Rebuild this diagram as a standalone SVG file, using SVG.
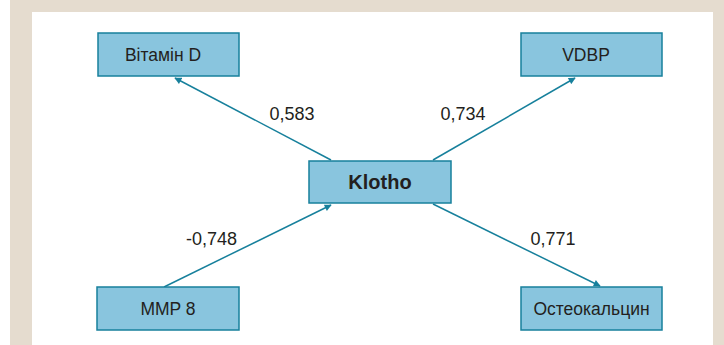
<svg xmlns="http://www.w3.org/2000/svg" width="724" height="345" viewBox="0 0 724 345">
<style>
.box{fill:#89C5DE;stroke:#17809C;stroke-width:1.5}
.t{font-family:"Liberation Sans",Arial,sans-serif;font-size:17.5px;fill:#231F20;text-anchor:middle}
.l{font-size:18px}
.b{font-weight:bold;font-size:20px}
.c{stroke:#17809C;stroke-width:1.5;fill:none;marker-end:url(#ah)}
</style>
<defs>
<marker id="ah" viewBox="0 0 10 10" refX="9" refY="5" markerWidth="8" markerHeight="7" orient="auto" markerUnits="userSpaceOnUse">
<path d="M0,0 L10,5 L0,10 z" fill="#17809C"/>
</marker>
</defs>
<rect x="0" y="0" width="724" height="345" fill="#ffffff"/>
<rect x="10" y="0" width="714" height="345" fill="#E5DCCF"/>
<rect x="32" y="12" width="681" height="333" fill="#ffffff"/>
<g id="connectors">
<line class="c" x1="331" y1="160" x2="175" y2="78"/>
<line class="c" x1="433" y1="160" x2="575" y2="78"/>
<line class="c" x1="433" y1="204" x2="600" y2="286"/>
<line class="c" x1="164" y1="287" x2="331" y2="205"/>
<text class="t l" x="292" y="120">0,583</text>
<text class="t l" x="463" y="120">0,734</text>
<text class="t l" x="211.5" y="245">-0,748</text>
<text class="t l" x="553" y="245">0,771</text>
</g>
<g id="vitd"><rect class="box" x="98" y="33" width="141" height="43"/><text class="t" x="163" y="61">Вітамін D</text></g>
<g id="vdbp"><rect class="box" x="521" y="33" width="141" height="43"/><text class="t" x="586" y="61">VDBP</text></g>
<g id="klotho"><rect class="box" x="309" y="161" width="142" height="42"/><text class="t b" x="380" y="189">Klotho</text></g>
<g id="mmp8"><rect class="box" x="97" y="287" width="142" height="43"/><text class="t" x="168" y="315">MMP 8</text></g>
<g id="osteo"><rect class="box" x="521" y="287" width="141" height="43"/><text class="t" x="591.5" y="315">Остеокальцин</text></g>
</svg>
